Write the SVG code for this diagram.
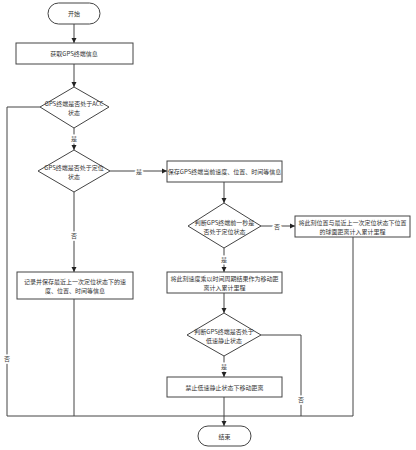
<svg xmlns="http://www.w3.org/2000/svg" width="416" height="450" viewBox="0 0 416 450">
<defs>
<marker id="arr" markerWidth="6" markerHeight="6" refX="5" refY="3" orient="auto" markerUnits="userSpaceOnUse">
<path d="M0,0.5 L5,3 L0,5.5 Z" fill="#222"/>
</marker>
<style>
.n{fill:#fff;stroke:#444;stroke-width:1}
.t{font-family:"Noto Sans CJK SC","Liberation Sans",sans-serif;font-size:6px;fill:#333;text-anchor:middle;dominant-baseline:central}
.c{fill:none;stroke:#444;stroke-width:1}
.l{font-family:"Noto Sans CJK SC",sans-serif;font-size:6px;fill:#444;text-anchor:middle;dominant-baseline:central;stroke:#fff;stroke-width:3;paint-order:stroke}
</style>
</defs>
<rect width="416" height="450" fill="#fff"/>
<g id="connectors">
<path class="c" d="M74,24 V43" marker-end="url(#arr)"/>
<path class="c" d="M74,64 V87" marker-end="url(#arr)"/>
<path class="c" d="M74,128 V150" marker-end="url(#arr)"/>
<path class="c" d="M110,171 H167" marker-end="url(#arr)"/>
<path class="c" d="M74,192 V272" marker-end="url(#arr)"/>
<path class="c" d="M74,299 V416"/>
<path class="c" d="M40,107 H7 V416 H353"/>
<path class="c" d="M224,182 V203" marker-end="url(#arr)"/>
<path class="c" d="M261,226 H295" marker-end="url(#arr)"/>
<path class="c" d="M353,237 V416"/>
<path class="c" d="M224,248 V272" marker-end="url(#arr)"/>
<path class="c" d="M224,293 V313" marker-end="url(#arr)"/>
<path class="c" d="M261,335 H301 V416"/>
<path class="c" d="M224,356 V377" marker-end="url(#arr)"/>
<path class="c" d="M224,397 V426" marker-end="url(#arr)"/>
<text class="l" x="74" y="138">是</text>
<text class="l" x="139" y="171">是</text>
<text class="l" x="74" y="235">否</text>
<text class="l" x="7" y="358">否</text>
<text class="l" x="277" y="226">否</text>
<text class="l" x="224" y="259">是</text>
<text class="l" x="301" y="399">否</text>
<text class="l" x="224" y="366">是</text>
</g>
<g id="start"><rect class="n" x="48" y="3" width="52" height="21" rx="10.5"/><text class="t" x="74" y="13.5">开始</text></g>
<g id="get-info"><rect class="n" x="16" y="43" width="117" height="21"/><text class="t" x="74" y="53.5">获取GPS终端信息</text></g>
<g id="acc-check"><polygon class="n" points="74,87 109,107 74,128 40,107"/><text class="t" x="74" y="103">GPS终端是否处于ACC</text><text class="t" x="74" y="112">状态</text></g>
<g id="locate-check"><polygon class="n" points="74,150 110,171 74,192 38,171"/><text class="t" x="74" y="167">GPS终端是否处于定位</text><text class="t" x="74" y="176">状态</text></g>
<g id="save-current"><rect class="n" x="167" y="161" width="115" height="21"/><text class="t" x="224.5" y="171.5">保存GPS终端当前速度、位置、时间等信息</text></g>
<g id="record-last"><rect class="n" x="17" y="272" width="116" height="27"/><text class="t" x="75" y="281">记录并保存最近上一次定位状态下的速</text><text class="t" x="75" y="290">度、位置、时间等信息</text></g>
<g id="prev-check"><polygon class="n" points="224,203 261,226 224,248 188,226"/><text class="t" x="224.5" y="222">判断GPS终端前一秒是</text><text class="t" x="224.5" y="231">否处于定位状态</text></g>
<g id="sphere-dist"><rect class="n" x="295" y="216" width="115" height="21"/><text class="t" x="352.5" y="222">将此刻位置与最近上一次定位状态下位置</text><text class="t" x="352.5" y="231">的球面距离计入累计里程</text></g>
<g id="speed-time"><rect class="n" x="167" y="272" width="115" height="21"/><text class="t" x="224.5" y="278">将此刻速度乘以时间周期结果作为移动距</text><text class="t" x="224.5" y="287">离计入累计里程</text></g>
<g id="static-check"><polygon class="n" points="224,313 261,335 224,356 187,335"/><text class="t" x="224" y="331">判断GPS终端是否处于</text><text class="t" x="224" y="340">低速静止状态</text></g>
<g id="forbid"><rect class="n" x="167" y="377" width="115" height="20"/><text class="t" x="224.5" y="387">禁止低速静止状态下移动距离</text></g>
<g id="end"><rect class="n" x="198" y="426" width="53" height="20" rx="10"/><text class="t" x="224.5" y="436">结束</text></g>
</svg>
